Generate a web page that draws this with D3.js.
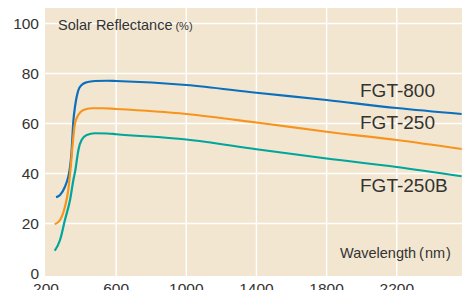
<!DOCTYPE html>
<html>
<head>
<meta charset="utf-8">
<script src="https://cdn.jsdelivr.net/npm/d3@7"></script>
<style>
  body { margin: 0; background: #fff; }
  svg { display: block; font-family: "Liberation Sans", Arial, sans-serif; }
  .tick-label { font-size: 15.5px; fill: #333; }
  .series-label { font-size: 19px; fill: #333; }
  .axis-title { font-size: 14.5px; fill: #333; }
</style>
</head>
<body>
<div class="chart"></div>
<script>
// wavelength (nm) and solar reflectance (%)
var wl800 = [257, 280, 308, 327, 337, 345, 356, 366, 375, 385, 403, 432, 479, 550, 600, 1000, 1400, 1800, 2200, 2570];
var fgt800 = [30.5, 31.4, 34.7, 38.7, 42.5, 48, 61, 67, 70.7, 73.4, 75.4, 76.5, 77.0, 77.1, 77.0, 75.4, 72.3, 69.4, 66.2, 63.8];

var wl250 = [250, 280, 308, 327, 340, 356, 365, 384, 413, 460, 520, 600, 1000, 1400, 1800, 2200, 2570];
var fgt250 = [19.7, 21.4, 26.7, 33.4, 42, 54.7, 60, 63.4, 65.4, 66.1, 66.1, 65.8, 63.8, 60.4, 56.7, 53.4, 49.8];

var wl250b = [250, 280, 308, 337, 356, 369, 377, 386, 403, 432, 479, 550, 600, 1000, 1400, 1800, 2200, 2570];
var fgt250b = [9.1, 13.4, 21.4, 29.4, 37.4, 42, 46, 49.8, 53.4, 55.4, 56.1, 56, 55.7, 53.6, 49.7, 46, 42.6, 38.9];

var xTicks = [200, 600, 1000, 1400, 1800, 2200];
var yTicks = [0, 20, 40, 60, 80, 100];
var seriesNames = ["FGT-800", "FGT-250", "FGT-250B"];
var seriesColors = ["#0a6fbd", "#f7941d", "#00a59b"];

var svgWidth = 462;
var svgHeight = 290;

var svg = d3.select(".chart")
  .append("svg")
  .attr("width", svgWidth)
  .attr("height", svgHeight);

var xScale = d3.scaleLinear().domain([200, 2572]).range([46, 462]);
var yScale = d3.scaleLinear().domain([0, 100]).range([273.5, 23.5]);

var plotTop = 8, plotBottom = 276, plotLeft = 45, plotRight = 462;

// plot background
svg.append("rect")
  .attr("x", plotLeft)
  .attr("y", plotTop)
  .attr("width", plotRight - plotLeft)
  .attr("height", plotBottom - plotTop)
  .attr("fill", "#f2e6d0");

// grid
svg.selectAll(".vgrid")
  .data(xTicks.slice(1))
  .enter().append("line")
    .attr("x1", function(d) { return xScale(d); })
    .attr("x2", function(d) { return xScale(d); })
    .attr("y1", plotTop)
    .attr("y2", plotBottom)
    .attr("stroke", "#fff")
    .attr("stroke-width", 1.4);

svg.selectAll(".hgrid")
  .data(yTicks.slice(1))
  .enter().append("line")
    .attr("x1", plotLeft)
    .attr("x2", plotRight)
    .attr("y1", function(d) { return yScale(d); })
    .attr("y2", function(d) { return yScale(d); })
    .attr("stroke", "#fff")
    .attr("stroke-width", 1.4);

// tick labels
svg.selectAll(".ylab")
  .data(yTicks)
  .enter().append("text")
    .attr("class", "tick-label")
    .attr("x", 39)
    .attr("y", function(d) { return yScale(d) + 5.5; })
    .attr("text-anchor", "end")
    .text(function(d) { return d; });

svg.selectAll(".xlab")
  .data(xTicks)
  .enter().append("text")
    .attr("class", "tick-label")
    .attr("x", function(d) { return xScale(d); })
    .attr("y", 293.5)
    .attr("text-anchor", "middle")
    .text(function(d) { return d; });

// curves
var line = d3.line()
  .x(function(d) { return xScale(d[0]); })
  .y(function(d) { return yScale(d[1]); })
  .curve(d3.curveMonotoneX);

var series = [d3.zip(wl800, fgt800), d3.zip(wl250, fgt250), d3.zip(wl250b, fgt250b)];

svg.selectAll(".curve")
  .data(series)
  .enter().append("path")
    .attr("d", line)
    .attr("fill", "none")
    .attr("stroke", function(d, i) { return seriesColors[i]; })
    .attr("stroke-width", 2.2);

// series labels
var labelPos = [[360, 96.7], [360, 129.3], [360, 192.3]];
svg.selectAll(".slab")
  .data(seriesNames)
  .enter().append("text")
    .attr("class", "series-label")
    .attr("x", function(d, i) { return labelPos[i][0]; })
    .attr("y", function(d, i) { return labelPos[i][1]; })
    .text(function(d) { return d; });

// axis titles
var yTitle = svg.append("text")
  .attr("class", "axis-title")
  .attr("x", 58)
  .attr("y", 30);
yTitle.append("tspan").text("Solar Reflectance");
yTitle.append("tspan").attr("dx", 3).style("font-size", "11px").text("(%)");

var xTitle = svg.append("text")
  .attr("class", "axis-title")
  .attr("x", 340)
  .attr("y", 258.3);
xTitle.append("tspan").text("Wavelength");
xTitle.append("tspan").attr("dx", 3).text("(");
xTitle.append("tspan").attr("dx", 1).text("nm");
xTitle.append("tspan").attr("dx", 1).text(")");
</script>
</body>
</html>
